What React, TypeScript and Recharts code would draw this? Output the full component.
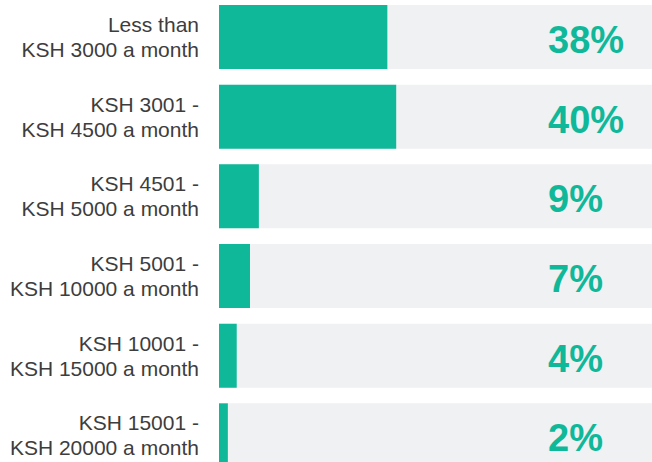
import React from "react";
import { BarChart, Bar, XAxis, YAxis, LabelList } from "recharts";

const categories: string[] = [
  "Less than|KSH 3000 a month",
  "KSH 3001 -|KSH 4500 a month",
  "KSH 4501 -|KSH 5000 a month",
  "KSH 5001 -|KSH 10000 a month",
  "KSH 10001 -|KSH 15000 a month",
  "KSH 15001 -|KSH 20000 a month",
];
const values: number[] = [38, 40, 9, 7, 4, 2];

const data = categories.map((name, i) => ({ name, value: values[i] }));

const GREEN = "#10B89A";
const BG = "#F0F1F3";
const TEXT = "#3d3d3d";
const FONT = "'Liberation Sans', Arial, Helvetica, sans-serif";

const Tick = (props: any) => {
  const { x, y, payload } = props;
  const [a, b] = String(payload.value).split("|");
  return (
    <text x={x} y={y} textAnchor="end" fill={TEXT} fontSize={21} fontFamily={FONT}>
      <tspan x={x} dy={-5}>{a}</tspan>
      <tspan x={x} dy={25}>{b}</tspan>
    </text>
  );
};

const PctLabel = (props: any) => {
  const { x, y, height, value } = props;
  return (
    <text
      x={Number(x) + 329}
      y={Number(y) + Number(height) / 2 + 16}
      textAnchor="start"
      fill={GREEN}
      fontSize={38}
      fontWeight="bold"
      fontFamily={FONT}
    >
      {value}%
    </text>
  );
};

export default function App() {
  return (
    <div style={{ position: "absolute", left: 0, top: 0, width: 652, height: 462, overflow: "hidden", background: "#fff" }}>
      <div style={{ position: "absolute", left: 0, top: -3 }}>
        <BarChart
          width={662}
          height={478}
          data={data}
          layout="vertical"
          margin={{ top: 0, right: 0, bottom: 0, left: 0 }}
          barSize={64}
        >
          <XAxis type="number" domain={[0, 100]} hide />
          <YAxis
            type="category"
            dataKey="name"
            width={219}
            axisLine={false}
            tickLine={false}
            tickSize={0}
            tickMargin={20}
            tick={<Tick />}
            interval={0}
          />
          <Bar dataKey="value" fill={GREEN} background={{ fill: BG }} isAnimationActive={false}>
            <LabelList dataKey="value" content={<PctLabel />} />
          </Bar>
        </BarChart>
      </div>
    </div>
  );
}
